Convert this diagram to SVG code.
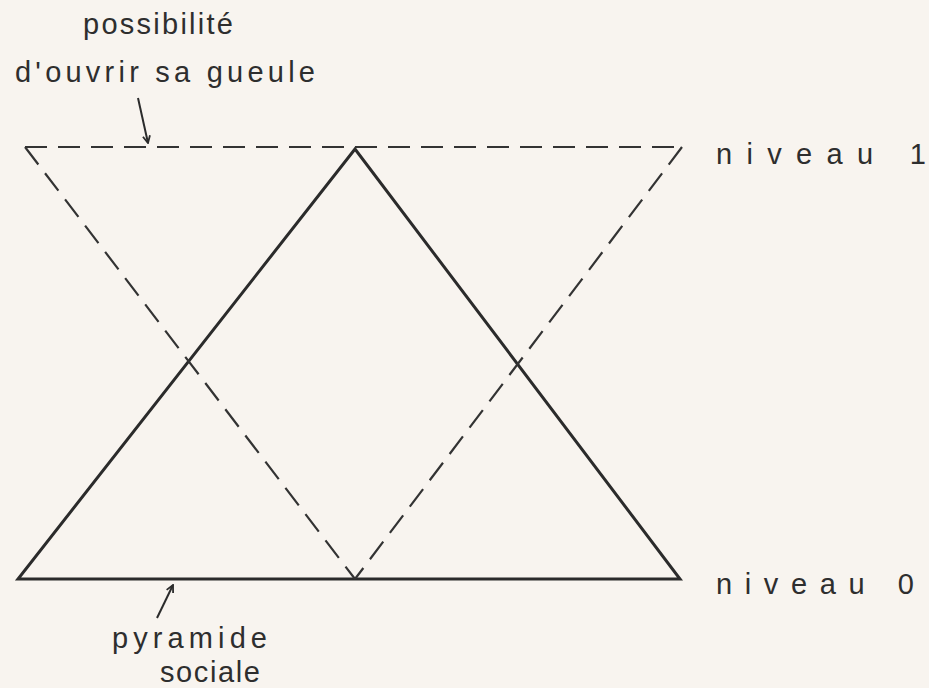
<svg xmlns="http://www.w3.org/2000/svg" width="929" height="688" viewBox="0 0 929 688">
<defs>
<style>
.bg{fill:#f8f4ef}
.solid{fill:none;stroke:#2b2b2b;stroke-width:3;stroke-linejoin:miter}
.dash{fill:none;stroke:#333;stroke-width:2.2;stroke-dasharray:22 11}
.lbl{font-family:"Liberation Sans",Arial,sans-serif;fill:#2e2e2e;font-size:29px}
.arr{fill:none;stroke:#2b2b2b;stroke-width:2}
</style>
<marker id="ah" viewBox="0 0 10 10" refX="9" refY="5" markerWidth="9" markerHeight="9" orient="auto" markerUnits="userSpaceOnUse">
<path d="M1,1 L9,5 L1,9" fill="none" stroke="#2b2b2b" stroke-width="2"/>
</marker>
</defs>
<rect class="bg" x="0" y="0" width="929" height="688"/>
<g id="pyramide-sociale">
<path class="solid" d="M18,579 L680,579 L355,149 Z"/>
</g>
<g id="possibilite">
<path class="dash" d="M25,147 L682,147"/>
<path class="dash" d="M25,147 L355,579"/>
<path class="dash" d="M682,147 L355,579"/>
</g>
<g id="connectors">
<line class="arr" x1="138" y1="98" x2="148" y2="143" marker-end="url(#ah)"/>
<line class="arr" x1="157" y1="618" x2="173" y2="585" marker-end="url(#ah)"/>
</g>
<g id="label-top">
<text class="lbl" x="83" y="34" textLength="150" lengthAdjust="spacing">possibilité</text>
<text class="lbl" x="15" y="82" textLength="300" lengthAdjust="spacing">d'ouvrir sa gueule</text>
</g>
<g id="label-niveau1">
<text class="lbl" x="716" y="164" textLength="210" lengthAdjust="spacing">niveau  1</text>
</g>
<g id="label-niveau0">
<text class="lbl" x="716" y="594" textLength="198" lengthAdjust="spacing">niveau  0</text>
</g>
<g id="label-pyramide">
<text class="lbl" x="112" y="648" textLength="155" lengthAdjust="spacing">pyramide</text>
<text class="lbl" x="160" y="682" textLength="100" lengthAdjust="spacing">sociale</text>
</g>
</svg>
